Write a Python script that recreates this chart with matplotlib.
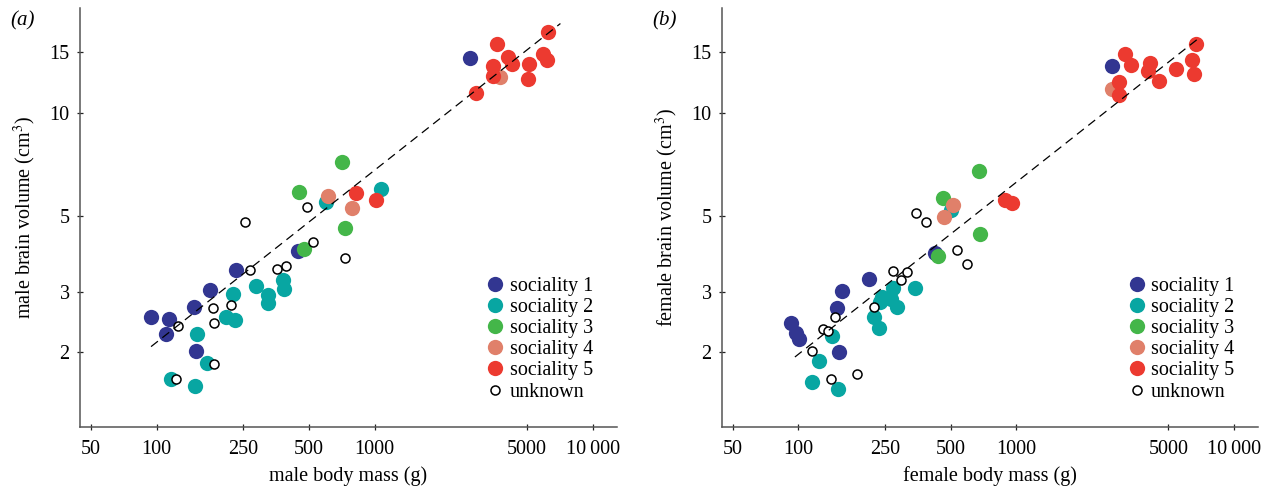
# Brain volume vs body mass, males (a) and females (b)

import numpy as np
import matplotlib.pyplot as plt

plt.rcParams['font.family'] = ['Liberation Serif', 'DejaVu Serif']
plt.rcParams['mathtext.fontset'] = 'stix'

# ---- (a) males: body mass (g), brain volume (cm3) per sociality group
m_s1_mass = [2722, 445, 231, 175, 149, 94.4, 114.5, 110, 151]
m_s1_brain = [14.4, 3.96, 3.47, 3.05, 2.71, 2.53, 2.50, 2.26, 2.02]
m_s2_mass = [1074, 599, 286, 379, 382, 326, 324, 224, 208, 229, 153, 170, 116, 150]
m_s2_brain = [5.99, 5.50, 3.12, 3.25, 3.06, 2.94, 2.79, 2.96, 2.54, 2.49, 2.26, 1.86, 1.67, 1.60]
m_s3_mass = [707, 450, 732, 476]
m_s3_brain = [7.17, 5.86, 4.62, 4.0]
m_s4_mass = [3737, 614, 785]
m_s4_brain = [12.7, 5.71, 5.26]
m_s5_mass = [6230, 3636, 4083, 4260, 3471, 3471, 5096, 5044, 5910, 6166, 2922, 820, 1016]
m_s5_brain = [17.2, 15.9, 14.5, 13.9, 13.7, 12.8, 13.9, 12.5, 14.8, 14.2, 11.4, 5.82, 5.55]
m_unk_mass = [490, 254, 521, 732, 268, 358, 393, 182, 220, 126, 184, 184, 123]
m_unk_brain = [5.32, 4.81, 4.19, 3.77, 3.49, 3.50, 3.57, 2.69, 2.75, 2.39, 2.44, 1.85, 1.67]
m_fit_mass = [94.4, 7100]
m_fit_brain = [2.08, 18.2]

# ---- (b) females
f_s1_mass = [2765, 423, 211, 158, 151, 92.1, 97.7, 100.5, 153]
f_s1_brain = [13.7, 3.91, 3.27, 3.03, 2.70, 2.44, 2.28, 2.19, 2.01]
f_s2_mass = [504, 345, 272, 243, 237, 265, 283, 223, 234, 142, 124, 115, 152]
f_s2_brain = [5.20, 3.08, 3.08, 2.91, 2.80, 2.87, 2.71, 2.53, 2.36, 2.24, 1.89, 1.64, 1.57]
f_s3_mass = [675, 460, 680, 437]
f_s3_brain = [6.76, 5.64, 4.42, 3.82]
f_s4_mass = [2765, 513, 467]
f_s4_brain = [11.7, 5.38, 4.95]
f_s5_mass = [6700, 3152, 3351, 2975, 2975, 4110, 4024, 4540, 5401, 6412, 6528, 886, 953]
f_s5_brain = [15.9, 14.8, 13.8, 12.3, 11.3, 14.0, 13.2, 12.4, 13.4, 14.2, 13.0, 5.57, 5.45]
f_unk_mass = [348, 386, 533, 595, 272, 314, 296, 223, 147, 130, 137, 116, 141, 186]
f_unk_brain = [5.09, 4.80, 3.98, 3.63, 3.46, 3.43, 3.25, 2.71, 2.53, 2.34, 2.31, 2.02, 1.67, 1.73]
f_fit_mass = [96.4, 6820]
f_fit_brain = [1.94, 16.4]

labels = ['sociality 1', 'sociality 2', 'sociality 3', 'sociality 4', 'sociality 5']
colors = ['#323691', '#08a6a2', '#44b649', '#e0806a', '#ec3a30']
xticks = [50, 100, 250, 500, 1000, 5000, 10000]
xticklabels = ['50', '100', '250', '500', '1000', '5000', '10\u2009000']
yticks = [2, 3, 5, 10, 15]

fig = plt.figure(figsize=(12.68, 4.9), dpi=100)
ax_a = fig.add_axes([80 / 1268, 63.3 / 490, 537 / 1268, 418.7 / 490])
ax_b = fig.add_axes([722 / 1268, 63.3 / 490, 536 / 1268, 418.7 / 490])

panels = [
    (ax_a, '(a)', 'male body mass (g)', 'male brain volume (cm$^3$)',
     [(m_s1_mass, m_s1_brain), (m_s2_mass, m_s2_brain), (m_s3_mass, m_s3_brain),
      (m_s4_mass, m_s4_brain), (m_s5_mass, m_s5_brain)],
     (m_unk_mass, m_unk_brain), (m_fit_mass, m_fit_brain)),
    (ax_b, '(b)', 'female body mass (g)', 'female brain volume (cm$^3$)',
     [(f_s1_mass, f_s1_brain), (f_s2_mass, f_s2_brain), (f_s3_mass, f_s3_brain),
      (f_s4_mass, f_s4_brain), (f_s5_mass, f_s5_brain)],
     (f_unk_mass, f_unk_brain), (f_fit_mass, f_fit_brain)),
]

for ax, tag, xlab, ylab, groups, unk, fit in panels:
    for (x, y), c, lab in zip(groups, colors, labels):
        ax.plot(x, y, 'o', ms=11, color=c, mec='none', label=lab, zorder=2)
    ax.plot(unk[0], unk[1], 'o', ms=6.5, mfc='white', mec='black', mew=1.1,
            label='unknown', zorder=3)
    ax.plot(fit[0], fit[1], color='black', lw=0.9, ls=(0, (7, 4.5)), zorder=4)

    ax.set_xscale('log')
    ax.set_yscale('log')
    ax.set_xlim(44.6, 12900)
    ax.set_ylim(1.215, 20.2)
    ax.set_xticks(xticks)
    ax.set_xticklabels(xticklabels)
    ax.set_yticks(yticks)
    ax.set_yticklabels([str(t) for t in yticks])
    ax.minorticks_off()

    for s in ['top', 'right']:
        ax.spines[s].set_visible(False)
    for s in ['left', 'bottom']:
        ax.spines[s].set_color('#555555')
        ax.spines[s].set_linewidth(1.1)
    ax.tick_params(direction='inout', length=5, width=0.9, color='#222222',
                   labelsize=14.5, pad=5)
    ax.tick_params(axis='x', pad=7)

    ax.set_xlabel(xlab, fontsize=14.5, labelpad=5)
    ax.set_ylabel(ylab, fontsize=14.5, labelpad=8)
    ax.text(-0.13, 0.97, tag, transform=ax.transAxes, fontsize=15,
            style='italic', ha='left', va='center')

    ax.legend(loc='lower right', bbox_to_anchor=(0.955, 0.06), frameon=False,
              fontsize=14.5, handlelength=0.8, handletextpad=0.3,
              labelspacing=0.1, borderpad=0, borderaxespad=0)

plt.savefig('out.png', dpi=100)
